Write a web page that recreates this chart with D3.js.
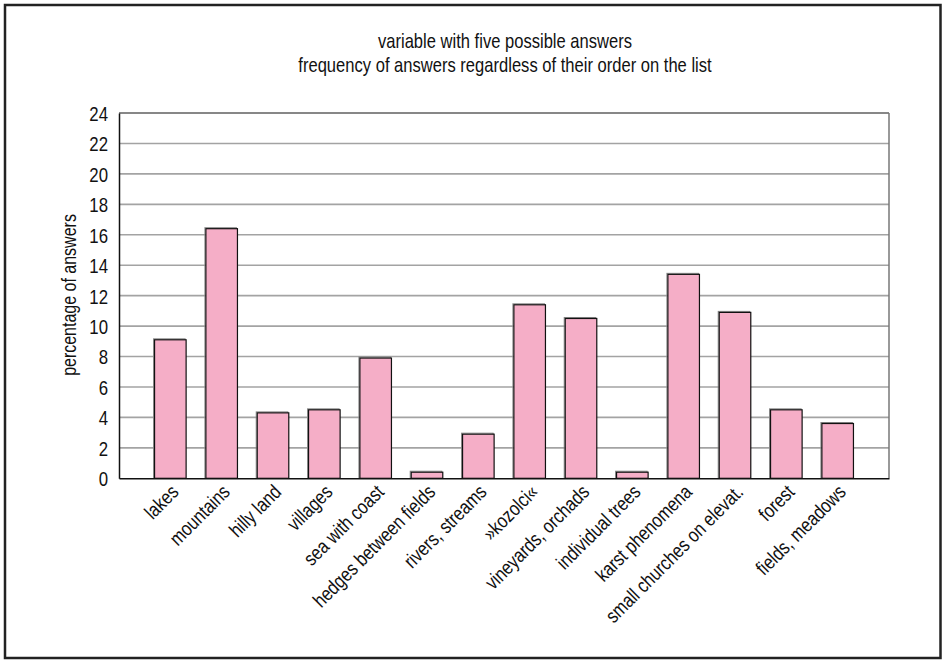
<!DOCTYPE html>
<html><head><meta charset="utf-8">
<script src="https://cdn.jsdelivr.net/npm/d3@7"></script>
<style>
body{margin:0;background:#fff;}
text{font-family:"Liberation Sans",Arial,sans-serif;fill:#111;}
</style></head>
<body>
<svg id="c" width="944" height="660"></svg>
<script>
const categories = ["lakes","mountains","hilly land","villages","sea with coast","hedges between fields","rivers, streams","»kozolci«","vineyards, orchads","individual trees","karst phenomena","small churches on elevat.","forest","fields, meadows"];
const values = [9.1,16.4,4.3,4.5,7.9,0.4,2.9,11.4,10.5,0.4,13.4,10.9,4.5,3.6];
const yTicks = [0,2,4,6,8,10,12,14,16,18,20,22,24];
const titleLines = ["variable with five possible answers","frequency of answers regardless of their order on the list"];
const yTitle = "percentage of answers";

const SX = 0.82; // narrow-font emulation
const svg = d3.select("#c");
const L=119, R=889, T=113, B=478.3;

svg.append("rect").attr("x",5).attr("y",5).attr("width",935.5).attr("height",653)
  .attr("fill","#fff").attr("stroke","#222").attr("stroke-width",2.5);

const x = d3.scalePoint().domain(categories).range([L,R]).padding(1);
const y = d3.scaleLinear().domain([0,24]).range([B,T]);
const bw = x.step()*0.615;

// gridlines
svg.append("g").selectAll("line").data(yTicks.filter(d=>d>0&&d<24)).join("line")
  .attr("x1",L).attr("x2",R).attr("y1",d=>y(d)).attr("y2",d=>y(d))
  .attr("stroke","#a3a3a3").attr("stroke-width",1.6);

// plot frame
svg.append("line").attr("x1",L).attr("x2",R).attr("y1",T).attr("y2",T).attr("stroke","#111").attr("stroke-width",1.2);
svg.append("line").attr("x1",R).attr("x2",R).attr("y1",T).attr("y2",B).attr("stroke","#777").attr("stroke-width",1.5);

// bars shadow
svg.append("g").selectAll("rect").data(values).join("rect")
  .attr("x",(d,i)=>x(categories[i])-bw/2-1).attr("y",d=>y(d)-1)
  .attr("width",bw).attr("height",d=>B-y(d)+1)
  .attr("fill","none").attr("stroke","#888").attr("stroke-width",1);
// bars
svg.append("g").selectAll("rect").data(values).join("rect")
  .attr("x",(d,i)=>x(categories[i])-bw/2).attr("y",d=>y(d))
  .attr("width",bw).attr("height",d=>B-y(d))
  .attr("fill","#f5aec7").attr("stroke","#111").attr("stroke-width",1.2);

// axes
const ya = d3.axisLeft(y).tickValues(yTicks).tickSize(0);
const gy = svg.append("g").attr("transform",`translate(${L},0)`).call(ya);
gy.select(".domain").attr("stroke","#111").attr("stroke-width",1.5);
gy.selectAll("text").attr("font-size",20.5).style("font-family",'"Liberation Sans",Arial,sans-serif').attr("fill","#111")
  .attr("x",0).attr("dy","0.36em").attr("text-anchor","end").attr("transform",`translate(-11,0) scale(${SX},1)`);

const xa = d3.axisBottom(x).tickSize(0).tickPadding(0);
const gx = svg.append("g").attr("transform",`translate(0,${B})`).call(xa);
gx.select(".domain").attr("stroke","#111").attr("stroke-width",1.5);
gx.selectAll("text").attr("font-size",20).style("font-family",'"Liberation Sans",Arial,sans-serif')
  .attr("fill","#111").attr("text-anchor","end").attr("dy",0).attr("y",0)
  .attr("transform",`translate(9,15) rotate(-45) scale(${SX},1)`);

svg.append("text").attr("transform",`translate(76,295) rotate(-90) scale(${SX},1)`).attr("text-anchor","middle")
  .attr("font-size",19.5).text(yTitle);

svg.append("g").selectAll("text").data(titleLines).join("text")
  .attr("transform",(d,i)=>`translate(${(L+R)/2+1},${48+i*24}) scale(${SX},1)`).attr("text-anchor","middle")
  .attr("font-size",20.2).text(d=>d);
</script>
</body></html>
